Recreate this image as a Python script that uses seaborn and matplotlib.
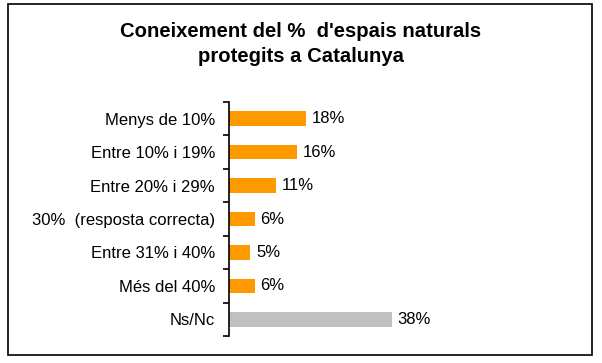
import matplotlib
matplotlib.use("Agg")
import matplotlib.pyplot as plt
import seaborn as sns
import pandas as pd
from matplotlib.patches import Rectangle
from matplotlib.ticker import FixedLocator

categories = ["Menys de 10%", "Entre 10% i 19%", "Entre 20% i 29%",
              "30%  (resposta correcta)", "Entre 31% i 40%", "Més del 40%", "Ns/Nc"]
values = [18, 16, 11, 6, 5, 6, 38]
value_labels = ["18%", "16%", "11%", "6%", "5%", "6%", "38%"]
bar_colors = ["#FF9900"] * 6 + ["#C0C0C0"]
title = "Coneixement del %  d'espais naturals\nprotegits a Catalunya"

sns.set_style("white")
plt.rcParams["font.family"] = ["Liberation Sans", "DejaVu Sans"]
plt.rcParams["text.color"] = "black"
plt.rcParams["ytick.color"] = "black"
plt.rcParams["ytick.labelcolor"] = "black"

W, H = 602, 363
fig = plt.figure(figsize=(W / 100, H / 100), dpi=100)
fig.patch.set_facecolor("white")

left_px, right_px = 229, 229 + 4.28 * 40
top_px, bot_px = 102, 336
ax = fig.add_axes([left_px / W, (H - bot_px) / H, (right_px - left_px) / W, (bot_px - top_px) / H])

df = pd.DataFrame({"cat": categories, "val": values})
sns.barplot(data=df, x="val", y="cat", hue="cat", palette=bar_colors, order=categories,
            hue_order=categories, orient="h", width=0.44, legend=False, ax=ax,
            saturation=1, edgecolor="none")

ax.set_xlim(0, 40)
ax.set_ylim(len(categories) - 0.5, -0.5)
ax.set_xlabel("")
ax.set_ylabel("")
ax.set_xticks([])
for s in ["top", "right", "bottom"]:
    ax.spines[s].set_visible(False)
ax.spines["left"].set_linewidth(1.2)
ax.spines["left"].set_color("black")

ax.tick_params(axis="y", which="major", left=True, length=0, pad=10, labelsize=12,
               labelcolor="black")
ax.yaxis.set_minor_locator(FixedLocator([i - 0.5 for i in range(len(categories) + 1)]))
ax.tick_params(axis="y", which="minor", left=True, length=4, width=1.2, color="black",
               direction="out")

for i, (v, lab) in enumerate(zip(values, value_labels)):
    ax.annotate(lab, xy=(v, i), xytext=(4, 0), textcoords="offset points",
                va="center", ha="left", fontsize=12, color="black", annotation_clip=False)

fig.text(301 / W, 1 - 44 / H, title, ha="center", va="center", fontsize=14.6,
         fontweight="bold", linespacing=1.42, multialignment="center", color="black")

fig.patches.append(Rectangle((7.5 / W, 1 - 355 / H), (592 - 7.5) / W, (355 - 4) / H,
                             transform=fig.transFigure, fill=False, edgecolor="black",
                             linewidth=1.2))

fig.savefig("out.png", dpi=100, facecolor="white")
